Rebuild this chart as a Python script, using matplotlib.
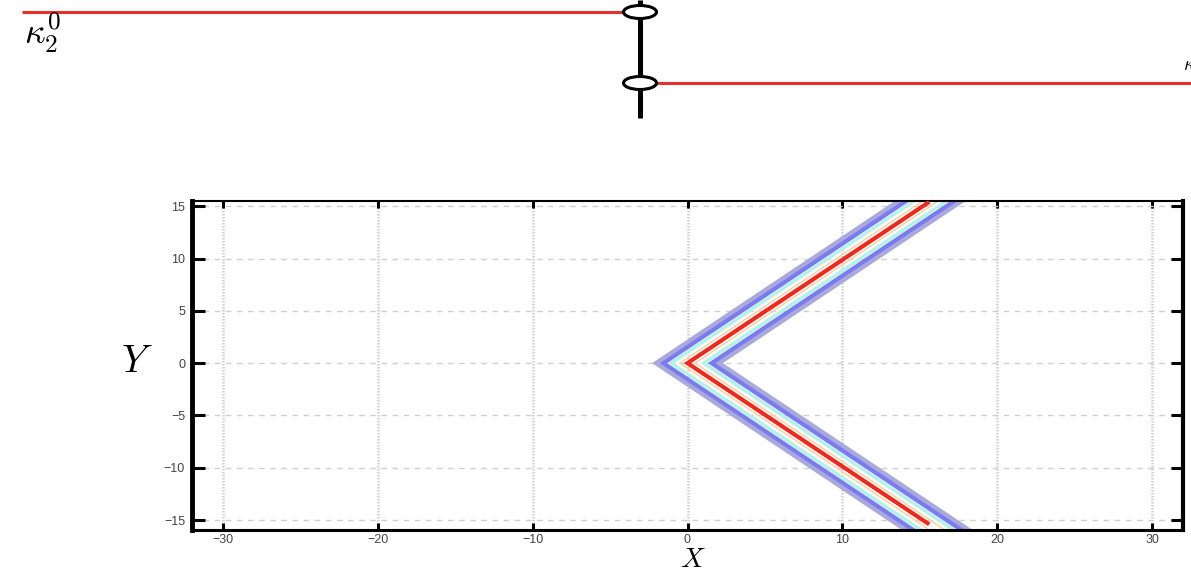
import numpy as np
import matplotlib.pyplot as plt
from matplotlib.patches import Ellipse

plt.rcParams["mathtext.fontset"] = "cm"
plt.rcParams["font.family"] = ["Liberation Sans", "DejaVu Sans"]
plt.rcParams["axes.unicode_minus"] = True

# schematic strip at the top (pixel coordinates of the 1191x130 strip)
left_branch_x = [22, 625]
left_branch_y = [12, 12]
right_branch_x = [655, 1191]
right_branch_y = [83, 83]
stem_x = [640, 640]
stem_y = [0, 118]
node_x = [640, 640]
node_y = [12, 83]

# lower panel: centre path and the offset bands around it
path_x = [15.5, 0.0, 15.5]
path_y = [15.3, 0.0, -15.3]
band_x = [17.5, 0.0, 17.5]
band_y = [17.3, 0.0, -17.3]
band_offsets = [2.0, 1.55, 1.05, 0.5]
band_colors = ["#a9a9dc", "#7b7bef", "#b3f2ea", "#ffd1a3"]
band_widths = [3.6, 3.0, 2.4, 1.1]

xticks = [-30, -20, -10, 0, 10, 20, 30]
yticks = [-15, -10, -5, 0, 5, 10, 15]

fig = plt.figure(figsize=(11.91, 5.70), dpi=100)

# top strip
top = fig.add_axes([0, 1 - 130 / 570, 1, 130 / 570])
top.set_xlim(0, 1191)
top.set_ylim(130, 0)
top.axis("off")
top.plot(left_branch_x, left_branch_y, color="#e8302a", lw=2.2, solid_capstyle="butt")
top.plot(right_branch_x, right_branch_y, color="#e8302a", lw=2.2, solid_capstyle="butt")
top.plot(stem_x, stem_y, color="black", lw=3.6, solid_capstyle="butt")
for cx, cy in zip(node_x, node_y):
    top.add_patch(Ellipse((cx, cy), 33, 13, facecolor="white", edgecolor="black", lw=2.2, zorder=5))
top.text(24, 33, r"$\kappa_2^0$", fontsize=26, va="center", ha="left")
top.text(1183, 66, r"$\kappa$", fontsize=14, va="center", ha="left", clip_on=False)

# main panel
ax = fig.add_axes([192 / 1191, 40 / 570, (1183 - 192) / 1191, (530 - 201) / 570])
for off, col, w in zip(band_offsets, band_colors, band_widths):
    for sgn in (-1, 1):
        ax.plot(np.array(band_x) + sgn * off, band_y, color=col, lw=w,
                solid_joinstyle="miter", zorder=2)
ax.plot(path_x, path_y, color="#ec2a1f", lw=3.0, solid_joinstyle="miter", zorder=3)

ax.set_xlim(-32, 32)
ax.set_ylim(-15.95, 15.5)
ax.set_xticks(xticks)
ax.set_yticks(yticks)
ax.set_xticklabels([str(t).replace("-", "\u2212") for t in xticks])
ax.set_yticklabels([str(t).replace("-", "\u2212") for t in yticks])

ax.xaxis.grid(True, color="#cfcfcf", lw=1.8, ls=(0, (0.6, 0.6)))
ax.yaxis.grid(True, color="#cfcfcf", lw=1.0, ls=(0, (4, 4)))
ax.set_axisbelow(True)

ax.tick_params(axis="both", direction="in", top=True, right=True,
               labelsize=9, labelcolor="#444444", width=2.2, color="black")
ax.tick_params(axis="y", length=9, pad=5)
ax.tick_params(axis="x", length=5, pad=3)

ax.spines["left"].set_linewidth(3.5)
ax.spines["right"].set_linewidth(3.0)
ax.spines["top"].set_linewidth(1.5)
ax.spines["bottom"].set_linewidth(2.2)

fig.text(693 / 1191, 1 - 560 / 570, r"$X$", fontsize=20, ha="center", va="center")
fig.text(137 / 1191, 1 - 362 / 570, r"$Y$", fontsize=28, ha="center", va="center")

fig.savefig("out.png", dpi=100)
